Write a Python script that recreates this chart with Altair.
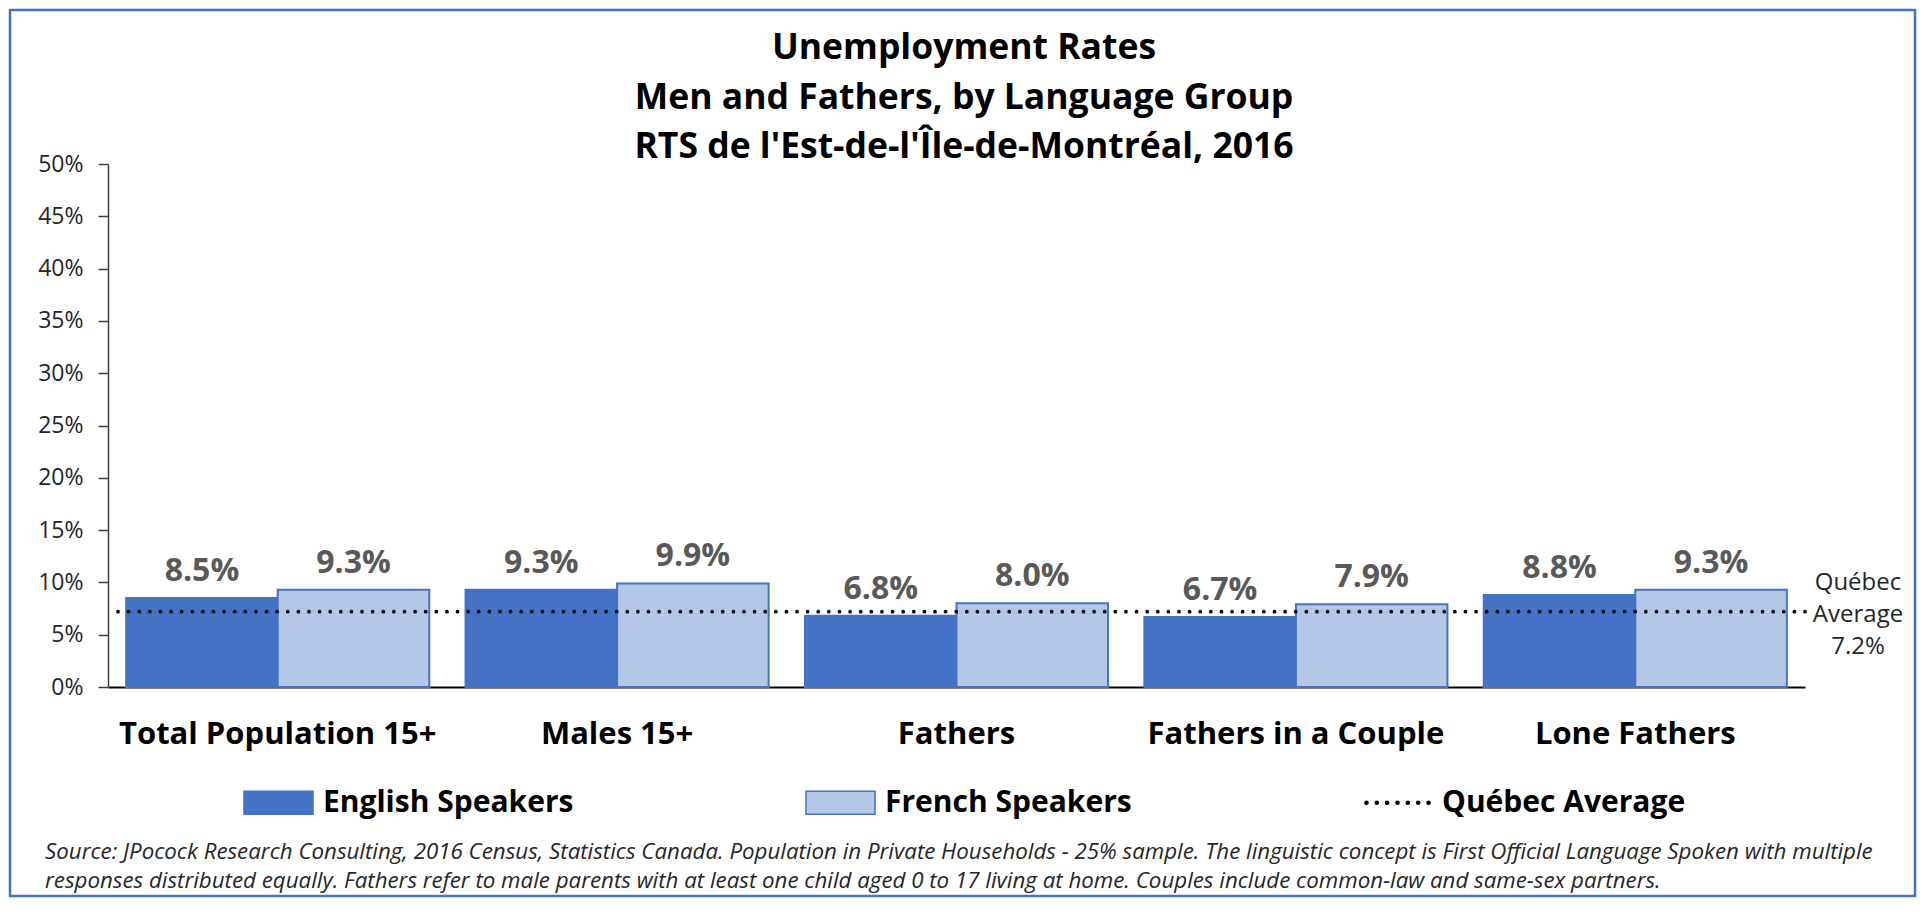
import altair as alt
import pandas as pd

# ---------------- data ----------------
categories = ["Total Population 15+", "Males 15+", "Fathers", "Fathers in a Couple", "Lone Fathers"]
series_names = ["English Speakers", "French Speakers"]
english_rates = [0.085, 0.093, 0.068, 0.067, 0.088]
french_rates = [0.093, 0.099, 0.080, 0.079, 0.093]
quebec_average = [0.072]
legend_names = ["English Speakers", "French Speakers", "Québec Average"]
y_ticks = [0.0, 0.05, 0.10, 0.15, 0.20, 0.25, 0.30, 0.35, 0.40, 0.45, 0.50]
title_lines = ["Unemployment Rates", "Men and Fathers, by Language Group",
               "RTS de l'Est-de-l'Île-de-Montréal, 2016"]
annotation_lines = ["Québec", "Average", "7.2%"]
source_lines = [
    "Source: JPocock Research Consulting, 2016 Census, Statistics Canada. Population in Private Households - 25% sample. The linguistic concept is First Official Language Spoken with multiple",
    "responses distributed equally. Fathers refer to male parents with at least one child aged 0 to 17 living at home. Couples include common-law and same-sex partners.",
]

rows = []
for i, c in enumerate(categories):
    rows.append({"category": c, "series": series_names[0], "value": english_rates[i]})
    rows.append({"category": c, "series": series_names[1], "value": french_rates[i]})
df = pd.DataFrame(rows)
avg_df = pd.DataFrame({"value": quebec_average})
one = pd.DataFrame({"k": [0]})

FONT = "Open Sans"
BLUE = "#4472C4"
LIGHT = "#B4C7E7"

rect_path = "M-1,-0.333H1V0.333H-1Z"
dots = []
r = 0.045
for cx in [-0.9, -0.6, -0.3, 0.0, 0.3, 0.6, 0.9]:
    dots.append(f"M{cx - r:.3f},0A{r},{r} 0 1,0 {cx + r:.3f},0A{r},{r} 0 1,0 {cx - r:.3f},0Z")
dot_path = "".join(dots)

legend = alt.Legend(
    title=None, orient="none", legendX=135, legendY=603, direction="horizontal",
    columnPadding=229, labelFont=FONT, labelFontSize=30, labelFontWeight="bold",
    labelColor="black", labelOffset=9, symbolSize=4761, symbolStrokeWidth=1.5,
    padding=0, labelLimit=800,
)
color_scale = alt.Scale(domain=legend_names, range=[BLUE, LIGHT, "black"])
stroke_scale = alt.Scale(domain=legend_names, range=[BLUE, BLUE, "black"])
shape_scale = alt.Scale(domain=legend_names, range=[rect_path, rect_path, dot_path])

x_enc = alt.X(
    "category:N", sort=categories,
    scale=alt.Scale(paddingInner=0.107, paddingOuter=0.0535),
    axis=alt.Axis(title=None, labelAngle=0, ticks=False, tickSize=0, labelPadding=32,
                  labelFont=FONT, labelFontSize=31, labelFontWeight="bold",
                  labelColor="black", domainColor="black", domainWidth=2.2, labelLimit=600),
)
xoff_enc = alt.XOffset("series:N", sort=series_names, scale=alt.Scale(paddingInner=0, paddingOuter=0))
y_enc = alt.Y(
    "value:Q", scale=alt.Scale(domain=[0, 0.5], nice=False),
    axis=alt.Axis(title=None, values=y_ticks, format=".0%", grid=False,
                  labelFont=FONT, labelFontSize=23, labelColor="#262626", labelPadding=15,
                  tickSize=10, tickColor="#404040", tickWidth=1.5,
                  domainColor="#404040", domainWidth=1.5),
)

bars = alt.Chart(df).mark_bar(strokeWidth=2).encode(
    x=x_enc, xOffset=xoff_enc, y=y_enc,
    color=alt.Color("series:N", scale=color_scale, legend=legend),
    stroke=alt.Stroke("series:N", scale=stroke_scale, legend=legend),
)

labels = alt.Chart(df).mark_text(
    baseline="alphabetic", dy=-17, font=FONT, fontSize=32, fontWeight="bold", color="#595959"
).encode(
    x=alt.X("category:N", sort=categories), xOffset=alt.XOffset("series:N", sort=series_names),
    y="value:Q", text=alt.Text("value:Q", format=".1%"),
)

rule = alt.Chart(avg_df).mark_rule(
    color="black", strokeWidth=3.8, strokeDash=[0.01, 10.6], strokeCap="round"
).encode(y="value:Q")

annot = alt.Chart(avg_df).mark_text(
    align="center", baseline="middle", font=FONT, fontSize=24, lineHeight=32,
    color="#262626", dy=-29
).encode(x=alt.value(1750), y="value:Q", text=alt.value(annotation_lines))

legend_pts = alt.Chart(df).transform_filter("datum.value < 0").mark_point(
    filled=True, opacity=1, strokeWidth=1.5
).encode(
    color=alt.Color("series:N", scale=color_scale, legend=legend),
    stroke=alt.Stroke("series:N", scale=stroke_scale, legend=legend),
    shape=alt.Shape("series:N", scale=shape_scale, legend=legend),
)

title = alt.Chart(one).mark_text(
    align="center", baseline="alphabetic", font=FONT, fontSize=35.5, fontWeight="bold",
    lineHeight=49.5, color="black"
).encode(x=alt.value(856), y=alt.value(-105), text=alt.value(title_lines))

source = alt.Chart(one).mark_text(
    align="left", baseline="top", font=FONT, fontSize=22.3, fontStyle="italic",
    lineHeight=29, color="#262626"
).encode(x=alt.value(-63), y=alt.value(677), text=alt.value(source_lines))

frame = alt.Chart(one).mark_rect(fillOpacity=0, stroke=BLUE, strokeWidth=2.5).encode(
    x=alt.value(-98), x2=alt.value(1807), y=alt.value(-154), y2=alt.value(732)
)

chart = alt.layer(bars, labels, rule, annot, legend_pts, title, source, frame).properties(
    width=1697, height=523,
    autosize=alt.AutoSizeParams(type="none"),
    padding={"left": 100, "top": 156, "right": 112, "bottom": 211},
    background="white",
).configure_view(strokeWidth=0)

chart.save("out.html", embed_options={"renderer": "svg", "actions": False})
